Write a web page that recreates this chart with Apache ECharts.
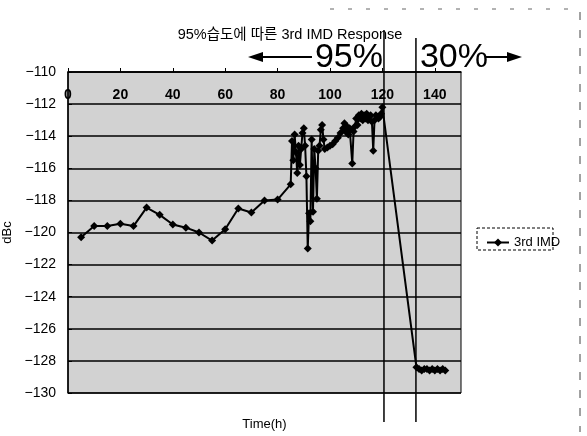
<!DOCTYPE html>
<html>
<head>
<meta charset="utf-8">
<script src="https://cdn.jsdelivr.net/npm/echarts@6/dist/echarts.min.js"></script>
<style>
html,body{margin:0;padding:0;background:#fff;}
#imdchart{width:587px;height:436px;}
</style>
</head>
<body>
<div id="imdchart"></div>
<script>
// time (h) and 3rd IMD level (dBc)
var timeH = [5,10,15,20,25,30,35,40,45,50,55,60,65,70,75,80,85,
    85.5,86,86.5,87,87.5,88,88.5,89,89.5,90,90.5,91,91.5,92,92.5,93,93.5,94,94.5,95,95.5,96,96.5,97,97.5,98,
    99,100,101,102,103,104,105,105.5,106,106.5,107,107.5,108,108.5,109,109.5,110,110.5,111,111.5,112,112.5,
    113,113.5,114,114.5,115,115.5,116,116.5,117,117.5,118,118.5,119,119.5,120,
    133,134,135,136,137,138,139,140,141,142,143,144];
var imdDbc = [-120.3,-119.6,-119.6,-119.45,-119.6,-118.45,-118.9,-119.5,-119.7,-120.0,-120.5,-119.8,-118.5,-118.75,-118.0,-117.95,-117.0,
    -114.3,-115.5,-113.9,-115.0,-116.3,-114.6,-115.8,-114.8,-113.8,-113.5,-114.6,-116.5,-121.0,-118.8,-119.3,-114.2,-118.7,-114.8,-116.0,-117.9,-114.9,-114.6,-113.6,-113.3,-114.2,-114.8,
    -114.7,-114.6,-114.5,-114.3,-114.1,-113.8,-113.5,-113.2,-113.7,-113.4,-113.9,-113.5,-113.6,-115.7,-113.7,-113.4,-112.9,-113.3,-112.7,-112.9,-112.6,-113.0,
    -112.7,-112.9,-112.6,-113.0,-112.8,-112.7,-113.1,-114.9,-113.0,-112.7,-112.8,-112.9,-112.8,-112.6,-112.2,
    -128.4,-128.5,-128.6,-128.5,-128.5,-128.6,-128.5,-128.6,-128.5,-128.6,-128.5,-128.6];
var seriesName = '3rd IMD';
var chartTitle = '95%습도에 따른 3rd IMD Response';
// humidity switch-over marks (hours) and their labels
var switchTimes = [120.6, 132.8];
var humidityLabels = ['95%', '30%'];

var FONT = '"Liberation Sans", Arial, "Noto Sans CJK KR", sans-serif';

var seriesData = [];
for (var i = 0; i < timeH.length; i++) {
    seriesData.push([timeH[i], imdDbc[i]]);
}

var imdChart = echarts.init(document.getElementById('imdchart'));

var imdOption = {
    backgroundColor: '#fff',
    animation: false,
    textStyle: {fontFamily: FONT, color: '#000'},
    title: {
        text: chartTitle,
        left: 285,
        top: 23,
        textAlign: 'center',
        textStyle: {fontSize: 14.5, fontWeight: 'normal', color: '#000', fontFamily: FONT}
    },
    grid: {
        left: 68,
        right: 126,
        top: 72,
        bottom: 43,
        outerBoundsMode: 'none',
        show: true,
        backgroundColor: '#d2d2d2',
        borderColor: '#000',
        borderWidth: 1
    },
    legend: {
        left: 481,
        top: 231,
        itemWidth: 22,
        itemHeight: 10,
        itemGap: 4,
        textStyle: {fontSize: 13, color: '#000', fontFamily: FONT},
        data: [seriesName]
    },
    xAxis: [
        {
            // labels sit at the top, inside the plot (Excel style)
            type: 'value',
            position: 'top',
            min: 0,
            max: 150,
            interval: 20,
            axisLine: {show: true, lineStyle: {color: '#000', width: 1.5}},
            axisTick: {show: true, inside: false, length: 4, lineStyle: {color: '#000'}},
            axisLabel: {inside: true, margin: 16, fontSize: 14, fontWeight: 'bold', color: '#000',
                showMaxLabel: false, fontFamily: FONT},
            splitLine: {show: false}
        },
        {
            // only carries the axis title under the plot
            type: 'value',
            position: 'bottom',
            min: 0,
            max: 150,
            name: 'Time(h)',
            nameLocation: 'middle',
            nameGap: 25,
            nameTextStyle: {fontSize: 13, color: '#000', fontFamily: FONT},
            axisLine: {show: false},
            axisTick: {show: false},
            axisLabel: {show: false},
            splitLine: {show: false}
        }
    ],
    yAxis: {
        type: 'value',
        min: -130,
        max: -110,
        interval: 2,
        name: 'dBc',
        nameLocation: 'middle',
        nameRotate: 90,
        nameGap: 46,
        nameTextStyle: {fontSize: 13, color: '#000', fontFamily: FONT},
        axisLine: {show: true, lineStyle: {color: '#000', width: 1.5}},
        axisTick: {show: true, inside: true, length: 4, lineStyle: {color: '#000'}},
        axisLabel: {
            fontSize: 14,
            color: '#000',
            margin: 12,
            fontFamily: FONT,
            formatter: function (v) { return String(v).replace('-', '\u2212'); }
        },
        splitLine: {show: true, lineStyle: {color: '#000', width: 1.5}}
    },
    series: [
        {
            name: seriesName,
            type: 'line',
            xAxisIndex: 0,
            data: seriesData,
            symbol: 'diamond',
            symbolSize: 8,
            itemStyle: {color: '#000'},
            lineStyle: {color: '#000', width: 2}
        }
    ]
};

imdChart.setOption(imdOption);

// annotation layer: switch lines, humidity labels, arrows, legend frame, scan edges
var x1 = imdChart.convertToPixel({xAxisIndex: 0}, switchTimes[0]);
var x2 = imdChart.convertToPixel({xAxisIndex: 0}, switchTimes[1]);
var arrowY = 57;
imdChart.setOption({
    graphic: [
        {type: 'line', shape: {x1: x1, y1: 30, x2: x1, y2: 422}, style: {stroke: '#000', lineWidth: 1.5}, z: 100},
        {type: 'line', shape: {x1: x2, y1: 38, x2: x2, y2: 422}, style: {stroke: '#000', lineWidth: 1.5}, z: 100},
        {type: 'text', x: x1 - 1, y: 75, z: 100,
            style: {text: humidityLabels[0], font: '34px ' + FONT, fill: '#000', textAlign: 'right', textVerticalAlign: 'bottom'}},
        {type: 'text', x: x2 + 4, y: 75, z: 100,
            style: {text: humidityLabels[1], font: '34px ' + FONT, fill: '#000', textAlign: 'left', textVerticalAlign: 'bottom'}},
        // left arrow
        {type: 'line', shape: {x1: 258, y1: arrowY, x2: x1 - 72, y2: arrowY}, style: {stroke: '#000', lineWidth: 2}},
        {type: 'polygon', shape: {points: [[248, arrowY], [263, arrowY - 5], [263, arrowY + 5]]}, style: {fill: '#000'}},
        // right arrow
        {type: 'line', shape: {x1: x2 + 70, y1: arrowY, x2: 512, y2: arrowY}, style: {stroke: '#000', lineWidth: 2}},
        {type: 'polygon', shape: {points: [[522, arrowY], [507, arrowY - 5], [507, arrowY + 5]]}, style: {fill: '#000'}},
        // dashed legend frame
        {type: 'rect', shape: {x: 477, y: 228, width: 76, height: 22},
            style: {fill: null, stroke: '#000', lineWidth: 1, lineDash: [3, 2]}},
        // scanned page edges
        {type: 'line', shape: {x1: 580, y1: 12, x2: 580, y2: 432}, style: {stroke: '#444', lineWidth: 1, lineDash: [8, 10]}},
        {type: 'line', shape: {x1: 330, y1: 9, x2: 580, y2: 9}, style: {stroke: '#666', lineWidth: 1, lineDash: [4, 14]}}
    ]
});
</script>
</body>
</html>
